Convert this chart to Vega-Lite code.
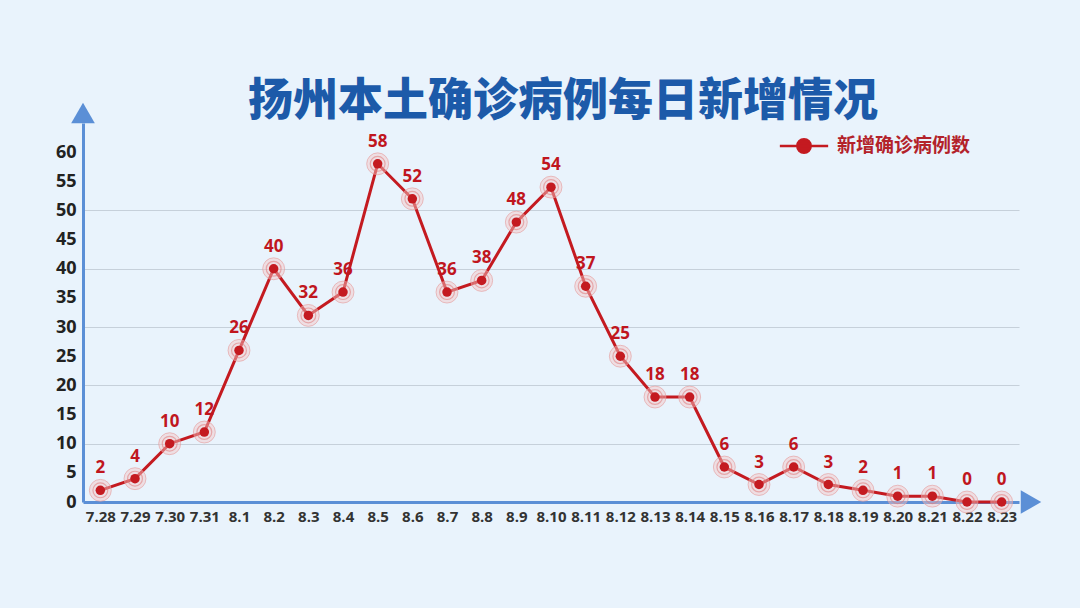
{
  "$schema": "https://vega.github.io/schema/vega-lite/v6.json",
  "description": "扬州本土确诊病例每日新增情况",
  "autosize": {"type": "none"},
  "width": 936,
  "height": 379,
  "padding": {"left": 83, "top": 123, "right": 61, "bottom": 106},
  "background": "#e9f3fc",
  "config": {"view": {"stroke": null}},
  "title": {
    "text": "扬州本土确诊病例每日新增情况",
    "font": "Noto Sans CJK SC",
    "fontWeight": 900,
    "fontSize": 45,
    "color": "#1c5aa9",
    "anchor": "middle",
    "dx": 12,
    "offset": -22
  },
  "data": {
    "values": [
      {"date": "7.28", "cases": 2}, {"date": "7.29", "cases": 4}, {"date": "7.30", "cases": 10},
      {"date": "7.31", "cases": 12}, {"date": "8.1", "cases": 26}, {"date": "8.2", "cases": 40},
      {"date": "8.3", "cases": 32}, {"date": "8.4", "cases": 36}, {"date": "8.5", "cases": 58},
      {"date": "8.6", "cases": 52}, {"date": "8.7", "cases": 36}, {"date": "8.8", "cases": 38},
      {"date": "8.9", "cases": 48}, {"date": "8.10", "cases": 54}, {"date": "8.11", "cases": 37},
      {"date": "8.12", "cases": 25}, {"date": "8.13", "cases": 18}, {"date": "8.14", "cases": 18},
      {"date": "8.15", "cases": 6}, {"date": "8.16", "cases": 3}, {"date": "8.17", "cases": 6},
      {"date": "8.18", "cases": 3}, {"date": "8.19", "cases": 2}, {"date": "8.20", "cases": 1},
      {"date": "8.21", "cases": 1}, {"date": "8.22", "cases": 0}, {"date": "8.23", "cases": 0}
    ]
  },
  "encoding": {
    "x": {
      "field": "date", "type": "ordinal", "sort": null, "title": null,
      "scale": {"type": "point", "padding": 0.5},
      "axis": {
        "labelAngle": 0, "labelFont": "Open Sans", "labelFontWeight": "bold",
        "labelFontSize": 15, "labelColor": "#333333", "labelPadding": 7,
        "ticks": false, "grid": false,
        "domainColor": "#5b8fd6", "domainWidth": 3
      }
    },
    "y": {
      "field": "cases", "type": "quantitative", "title": null,
      "scale": {"domain": [0, 65], "nice": false},
      "axis": {
        "values": [0, 5, 10, 15, 20, 25, 30, 35, 40, 45, 50, 55, 60],
        "labelFont": "Open Sans", "labelFontWeight": "bold", "labelFontSize": 18,
        "labelColor": "#222222", "labelPadding": 7, "ticks": false,
        "domainColor": "#5b8fd6", "domainWidth": 3,
        "grid": true, "gridColor": "#c2ccd6", "gridWidth": 1,
        "gridOpacity": {
          "condition": {"test": "datum.value % 10 === 0 && datum.value > 0 && datum.value < 60", "value": 0.9},
          "value": 0
        }
      }
    }
  },
  "layer": [
    {
      "mark": {"type": "line", "strokeWidth": 3},
      "encoding": {
        "color": {
          "datum": "新增确诊病例数",
          "scale": {"range": ["#c41a20"]},
          "legend": {
            "title": null, "orient": "none", "legendX": 706, "legendY": 8,
            "symbolType": "M-1.8,0L1.8,0M-0.5,0A0.5,0.5,0,1,1,0.5,0A0.5,0.5,0,1,1,-0.5,0Z",
            "symbolSize": 720, "symbolStrokeWidth": 2.5,
            "symbolFillColor": "#c41a20", "symbolStrokeColor": "#c41a20",
            "labelFont": "Noto Sans CJK SC", "labelFontWeight": "bold",
            "labelFontSize": 19, "labelColor": "#b3222a", "labelOffset": 18
          }
        }
      }
    },
    {
      "mark": {"type": "point", "shape": "circle", "size": 480, "filled": true,
               "fill": "#f3c6c6", "fillOpacity": 0.45, "stroke": "#e59a9a", "strokeWidth": 1, "strokeOpacity": 0.6}
    },
    {
      "mark": {"type": "point", "shape": "circle", "size": 220, "filled": false,
               "stroke": "#e07a7a", "strokeWidth": 1.2, "strokeOpacity": 0.8}
    },
    {
      "mark": {"type": "point", "shape": "circle", "size": 90, "filled": true,
               "fill": "#c41a20", "opacity": 1}
    },
    {
      "mark": {"type": "text", "dy": -22, "font": "Open Sans", "fontWeight": "bold",
               "fontSize": 17, "color": "#c0161e"},
      "encoding": {"text": {"field": "cases", "type": "quantitative"}}
    },
    {
      "data": {"values": [{"arrow": "y"}]},
      "mark": {"type": "point", "shape": "triangle-up", "filled": true, "size": 560,
               "color": "#5b8fd6", "opacity": 1, "yOffset": -10},
      "encoding": {"x": {"value": 0}, "y": {"value": 0}}
    },
    {
      "data": {"values": [{"arrow": "x"}]},
      "mark": {"type": "point", "shape": "triangle-right", "filled": true, "size": 560,
               "color": "#5b8fd6", "opacity": 1, "xOffset": 12},
      "encoding": {"x": {"value": {"expr": "width"}}, "y": {"value": {"expr": "height"}}}
    }
  ]
}
